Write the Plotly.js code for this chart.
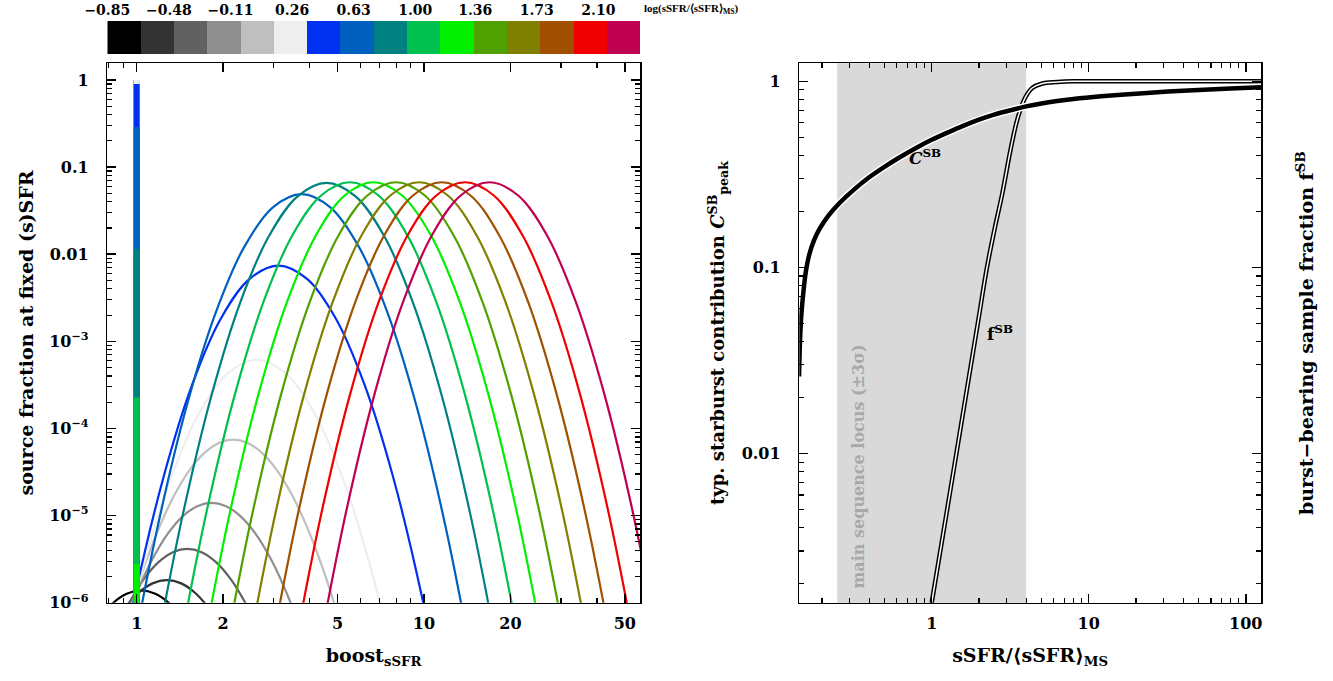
<!DOCTYPE html>
<html><head><meta charset="utf-8">
<script src="https://cdn.plot.ly/plotly-3.0.1.min.js"></script>
<style>html,body{margin:0;padding:0;background:#fff}#chart{width:1333px;height:681px}</style>
</head><body><div id="chart"></div>
<script>
// ---------- colour bins: log(sSFR/<sSFR>MS) ----------
const binCenters = [-0.75,-0.55,-0.35,-0.15,0.05,0.25,0.45,0.65,0.85,1.05,1.25,1.45,1.65,1.85,2.05,2.25];
const binColors = ['#000000','#333333','#616161','#8f8f8f','#bfbfbf','#eeeeee','#0030f0','#0060c0','#008080','#00c050','#00f000','#50a000','#808000','#a05000','#f00000','#c00050'];
const cbTickVals = [-0.85,-0.48,-0.11,0.26,0.63,1.00,1.36,1.73,2.10];
const cbTickText = ['−0.85','−0.48','−0.11','0.26','0.63','1.00','1.36','1.73','2.10'];

// ---------- left panel: source fraction vs boost, one curve per bin ----------
const boost_b00 = [0.5821,0.6531,0.7327,0.8222,0.9226,1.0351,1.1614,1.3031,1.4621,1.6405,1.8407];
const frac_b00  = [1.55e-7,3.40e-7,6.28e-7,9.72e-7,1.264e-6,1.38e-6,1.264e-6,9.72e-7,6.28e-7,3.40e-7,1.55e-7];
const boost_b01 = [0.6383,0.7161,0.8036,0.9015,1.0116,1.1351,1.2735,1.4289,1.6032,1.7988,2.0184,2.2647,2.5410];
const frac_b01  = [7.80e-8,2.04e-7,4.49e-7,8.28e-7,1.283e-6,1.667e-6,1.82e-6,1.667e-6,1.283e-6,8.28e-7,4.49e-7,2.04e-7,7.80e-8];
const boost_b02 = [0.6699,0.7516,0.8433,0.9463,1.0617,1.1912,1.3367,1.4997,1.6827,1.888,2.1183,2.3769,2.6669,2.9924,3.3574];
const frac_b02  = [5.70e-8,1.778e-7,4.66e-7,1.023e-6,1.888e-6,2.925e-6,3.802e-6,4.15e-6,3.802e-6,2.925e-6,1.888e-6,1.023e-6,4.66e-7,1.778e-7,5.70e-8];
const boost_b03 = [0.7261,0.8147,0.9141,1.0256,1.1509,1.2911,1.4487,1.6256,1.8239,2.0464,2.2961,2.5763,2.8907,3.2434,3.6392,4.0831,4.5814];
const frac_b03  = [5.18e-8,1.924e-7,6.00e-7,1.571e-6,3.452e-6,6.37e-6,9.87e-6,1.283e-5,1.40e-5,1.283e-5,9.87e-6,6.37e-6,3.452e-6,1.571e-6,6.00e-7,1.924e-7,5.18e-8];
const boost_b04 = [0.7691,0.8630,0.9683,1.0865,1.2189,1.3678,1.5346,1.7218,1.9321,2.1677,2.4322,2.7289,3.0619,3.4356,3.8548,4.3252,4.8528,5.4450,6.1094];
const frac_b04  = [6.23e-8,2.755e-7,1.024e-6,3.192e-6,8.36e-6,1.837e-5,3.390e-5,5.25e-5,6.83e-5,7.45e-5,6.83e-5,5.25e-5,3.390e-5,1.837e-5,8.36e-6,3.192e-6,1.024e-6,2.755e-7,6.23e-8];
const boost_b05 = [0.8279,1.0423,1.3122,1.6521,2.0797,2.6182,3.2961,4.1496,5.2241,6.5767,8.2795];
const frac_b05  = [9.75e-8,2.274e-6,2.635e-5,1.517e-4,4.334e-4,6.15e-4,4.334e-4,1.517e-4,2.635e-5,2.274e-6,9.75e-8];
const boost_b06 = [0.7817,0.984,1.239,1.560,1.964,2.472,3.112,3.918,4.932,6.209,7.817,9.84,12.39];
const frac_b06  = [2.50e-8,1.17e-6,2.74e-5,3.18e-4,1.83e-3,5.22e-3,7.41e-3,5.22e-3,1.83e-3,3.18e-4,2.74e-5,1.17e-6,2.50e-8];
const boost_b07 = [0.942,1.186,1.493,1.880,2.366,2.979,3.750,4.721,5.943,7.482,9.419,11.86,14.93];
const frac_b07  = [1.649e-7,7.75e-6,1.808e-4,2.095e-3,0.01206,0.03446,0.0489,0.03446,0.01206,2.095e-3,1.808e-4,7.75e-6,1.649e-7];
const boost_b08 = [1.151,1.449,1.824,2.296,2.891,3.639,4.581,5.767,7.260,9.140,11.51,14.49,18.24];
const frac_b08  = [2.226e-7,1.046e-5,2.441e-4,2.828e-3,0.01628,0.04651,0.066,0.04651,0.01628,2.828e-3,2.441e-4,1.046e-5,2.226e-7];
const boost_b09 = [1.387,1.746,2.198,2.767,3.484,4.385,5.521,6.950,8.750,11.02,13.87,17.46,21.98];
const frac_b09  = [2.26e-7,1.062e-5,2.478e-4,2.871e-3,0.01652,0.04721,0.067,0.04721,0.01652,2.871e-3,2.478e-4,1.062e-5,2.26e-7];
const boost_b10 = [1.675,2.108,2.655,3.342,4.208,5.296,6.668,8.394,10.57,13.30,16.75,21.09,26.55];
const frac_b10  = [2.26e-7,1.062e-5,2.478e-4,2.871e-3,0.01652,0.04721,0.067,0.04721,0.01652,2.871e-3,2.478e-4,1.062e-5,2.26e-7];
const boost_b11 = [2.009,2.529,3.184,4.009,5.047,6.353,7.998,10.07,12.68,15.96,20.09,25.29,31.84];
const frac_b11  = [2.26e-7,1.062e-5,2.478e-4,2.871e-3,0.01652,0.04721,0.067,0.04721,0.01652,2.871e-3,2.478e-4,1.062e-5,2.26e-7];
const boost_b12 = [2.416,3.041,3.828,4.820,6.068,7.638,9.616,12.11,15.24,19.19,24.15,30.41,38.28];
const frac_b12  = [2.26e-7,1.062e-5,2.478e-4,2.871e-3,0.01652,0.04721,0.067,0.04721,0.01652,2.871e-3,2.478e-4,1.062e-5,2.26e-7];
const boost_b13 = [2.896,3.646,4.590,5.779,7.275,9.158,11.53,14.52,18.27,23.01,28.96,36.46,45.90];
const frac_b13  = [2.26e-7,1.062e-5,2.478e-4,2.871e-3,0.01652,0.04721,0.067,0.04721,0.01652,2.871e-3,2.478e-4,1.062e-5,2.26e-7];
const boost_b14 = [3.492,4.395,5.534,6.967,8.771,11.04,13.90,17.50,22.03,27.73,34.92,43.96,55.34];
const frac_b14  = [2.26e-7,1.062e-5,2.478e-4,2.871e-3,0.01652,0.04721,0.067,0.04721,0.01652,2.871e-3,2.478e-4,1.062e-5,2.26e-7];
const boost_b15 = [4.245,5.344,6.728,8.470,10.66,13.42,16.90,21.28,26.79,33.72,42.45,53.44,67.28];
const frac_b15  = [2.26e-7,1.062e-5,2.478e-4,2.871e-3,0.01652,0.04721,0.067,0.04721,0.01652,2.871e-3,2.478e-4,1.062e-5,2.26e-7];

// fraction without boost (boost = 1) per bin; null = below the plotted range
const noBoost = 1;
const barFloor = 1e-7;
const fracAtBoostOne = [1.0,1.0,1.0,1.0,1.0,1.0,0.9,0.289,0.0115,2.26e-4,2.79e-6,null,null,null,null,null];

// ---------- right panel ----------
const ratioC   = [0.143,0.145,0.148,0.152,0.158,0.166,0.178,0.194,0.22,0.259,0.32,0.40,0.50,0.63,0.80,1.0,1.26,1.6,2.0,2.5,3.2,4.0,5.0,6.3,8.0,12,20,32,50,80,125];
const contribC = [0.026,0.040,0.056,0.072,0.095,0.117,0.140,0.162,0.190,0.222,0.262,0.305,0.347,0.392,0.440,0.485,0.53,0.578,0.622,0.662,0.70,0.733,0.76,0.783,0.803,0.83,0.858,0.88,0.899,0.915,0.929];
const ratioF   = [1.0,1.259,1.585,1.995,2.239,2.512,2.818,3.162,3.467,3.724,3.981,4.365,5.012,6.31,7.943,15.85,39.8,125];
const fracF    = [0.00158,0.0051,0.0166,0.054,0.098,0.16,0.25,0.42,0.60,0.73,0.83,0.92,0.97,0.99,1.0,1.0,1.0,1.0];
const msBand   = [0.25,4.0];

const curveBoost = [boost_b00,boost_b01,boost_b02,boost_b03,boost_b04,boost_b05,boost_b06,boost_b07,boost_b08,boost_b09,boost_b10,boost_b11,boost_b12,boost_b13,boost_b14,boost_b15];
const curveFrac  = [frac_b00,frac_b01,frac_b02,frac_b03,frac_b04,frac_b05,frac_b06,frac_b07,frac_b08,frac_b09,frac_b10,frac_b11,frac_b12,frac_b13,frac_b14,frac_b15];

const FONT = 'DejaVu Serif, Liberation Serif, serif';
const traces = [];

// colour bar as a heatmap row
const cscale = [];
binColors.forEach((c,i)=>{ cscale.push([i/16,c]); cscale.push([(i+1)/16,c]); });
traces.push({type:'heatmap', x:binCenters, y:[0], z:[binCenters.map((_,i)=>i)], zmin:-0.5, zmax:15.5,
  colorscale:cscale, showscale:false, xaxis:'x3', yaxis:'y3', hoverinfo:'skip'});

curveBoost.forEach((bx,i)=>{
  traces.push({type:'scatter', mode:'lines', x:bx, y:curveFrac[i], xaxis:'x', yaxis:'y',
    line:{color:binColors[i], width:2.2, shape:'spline', smoothing:1}, hoverinfo:'skip'});
});
fracAtBoostOne.forEach((v,i)=>{
  if(v===null) return;
  traces.push({type:'scatter', mode:'lines', x:[noBoost,noBoost], y:[barFloor,v], xaxis:'x', yaxis:'y',
    line:{color:binColors[i], width:6}, hoverinfo:'skip'});
});

// f^SB : double line
traces.push({type:'scatter', mode:'lines', x:ratioF, y:fracF, xaxis:'x2', yaxis:'y2', line:{color:'#000', width:4.5, shape:'spline'}, hoverinfo:'skip'});
traces.push({type:'scatter', mode:'lines', x:ratioF, y:fracF, xaxis:'x2', yaxis:'y2', line:{color:'#fff', width:1.5, shape:'spline'}, hoverinfo:'skip'});
// C^SB : thick black with white halo
traces.push({type:'scatter', mode:'lines', x:ratioC, y:contribC, xaxis:'x2', yaxis:'y2', line:{color:'#fff', width:7.5, shape:'spline'}, hoverinfo:'skip'});
traces.push({type:'scatter', mode:'lines', x:ratioC, y:contribC, xaxis:'x2', yaxis:'y2', line:{color:'#000', width:4.5, shape:'spline'}, hoverinfo:'skip'});

function minorVals(d0,d1){ const out=[]; for(let e=d0;e<=d1;e++){ for(let m=2;m<=9;m++) out.push(m*Math.pow(10,e)); } return out; }

const tickFont = {family:FONT, size:16, color:'#000', weight:'bold'};
const titleFont = {family:FONT, size:19, color:'#000', weight:'bold'};
function logAxis(extra){
  return Object.assign({type:'log', showline:true, linecolor:'#000', linewidth:1.5, mirror:'allticks',
    ticks:'inside', ticklen:9, tickwidth:1.5, tickcolor:'#000', showgrid:false, zeroline:false,
    tickfont:tickFont, tickmode:'array'}, extra);
}
function minor(vals){ return {ticks:'inside', ticklen:5, tickwidth:1.2, tickcolor:'#000', tickmode:'array', tickvals:vals, showgrid:false}; }

const yDom = [1-602.7/681, 1-63.3/681];
const layout = {
  width:1333, height:681, margin:{l:0,r:0,t:0,b:0}, paper_bgcolor:'#fff', plot_bgcolor:'#fff', showlegend:false,
  font:{family:FONT, color:'#000'},
  xaxis: logAxis({domain:[107.3/1333, 640/1333], anchor:'y', range:[-0.1023,1.752],
    tickvals:[1,2,5,10,20,50], ticktext:['1','2','5','10','20','50'], ticklabelstandoff:6,
    minor:minor([0.8,0.9,3,4,6,7,8,9,30,40]),
    title:{text:'boost<sub>sSFR</sub>', font:titleFont, standoff:16}}),
  yaxis: logAxis({domain:yDom, anchor:'x', range:[-6,0.1915],
    tickvals:[1e-6,1e-5,1e-4,1e-3,0.01,0.1,1],
    ticktext:['10<sup>−6</sup>','10<sup>−5</sup>','10<sup>−4</sup>','10<sup>−3</sup>','0.01','0.1','1'],
    ticklabelstandoff:14, minor:minor(minorVals(-6,-1)),
    title:{text:'source fraction at fixed (s)SFR', font:titleFont, standoff:10}}),
  xaxis2: logAxis({domain:[799.3/1333, 1261/1333], anchor:'y2', range:[-0.843,2.097],
    tickvals:[1,10,100], ticktext:['1','10','100'], ticklabelstandoff:6,
    minor:minor(minorVals(-1,1)),
    title:{text:'sSFR/⟨sSFR⟩<sub>MS</sub>', font:titleFont, standoff:16}}),
  yaxis2: logAxis({domain:yDom, anchor:'x2', range:[-2.8,0.0965],
    tickvals:[0.01,0.1,1], ticktext:['0.01','0.1','1'], ticklabelstandoff:14,
    minor:minor(minorVals(-3,-1)),
    title:{text:'typ. starburst contribution <i>C</i><sup>SB</sup><sub>peak</sub>', font:{family:FONT,size:18,color:'#000',weight:'bold'}, standoff:12}}),
  xaxis3: {domain:[107.3/1333, 640/1333], anchor:'y3', range:[-0.85,2.35], side:'top', showline:false,
    ticks:'', showgrid:false, zeroline:false, tickmode:'array', tickvals:cbTickVals, ticktext:cbTickText,
    tickfont:{family:FONT,size:14,color:'#000',weight:'bold'}, ticklabelstandoff:2},
  yaxis3: {domain:[1-54/681, 1-21/681], anchor:'x3', range:[-0.5,0.5], visible:false},
  shapes:[{type:'rect', xref:'x2', yref:'y2 domain', x0:msBand[0], x1:msBand[1], y0:0, y1:1,
    fillcolor:'#d9d9d9', line:{width:0}, layer:'below'}],
  annotations:[
    {xref:'paper', yref:'paper', x:642/1333, y:1-9/681, xanchor:'left', yanchor:'middle', showarrow:false,
     text:'log(sSFR/⟨sSFR⟩<sub>MS</sub>)', font:{family:'Liberation Serif, serif',size:11,color:'#000',weight:'bold'}},
    {xref:'paper', yref:'paper', x:1305/1333, y:1-333/681, xanchor:'center', yanchor:'middle', showarrow:false,
     textangle:-90, text:'burst−bearing sample fraction f<sup>SB</sup>', font:titleFont},
    {xref:'x2', yref:'y2', x:Math.log10(0.90), y:Math.log10(0.39), showarrow:false,
     text:'<i>C</i><sup>SB</sup>', font:{family:FONT,size:17,color:'#000',weight:'bold'}},
    {xref:'x2', yref:'y2', x:Math.log10(2.71), y:Math.log10(0.0444), showarrow:false,
     text:'f<sup>SB</sup>', font:{family:FONT,size:17,color:'#000',weight:'bold'}},
    {xref:'x2', yref:'y2', x:Math.log10(0.343), y:Math.log10(0.0085), showarrow:false, textangle:-90,
     text:'main sequence locus (±3σ)', font:{family:FONT,size:16,color:'#a8a8a8',weight:'bold'}}
  ]
};
Plotly.newPlot('chart', traces, layout, {staticPlot:true, displayModeBar:false});
</script></body></html>
